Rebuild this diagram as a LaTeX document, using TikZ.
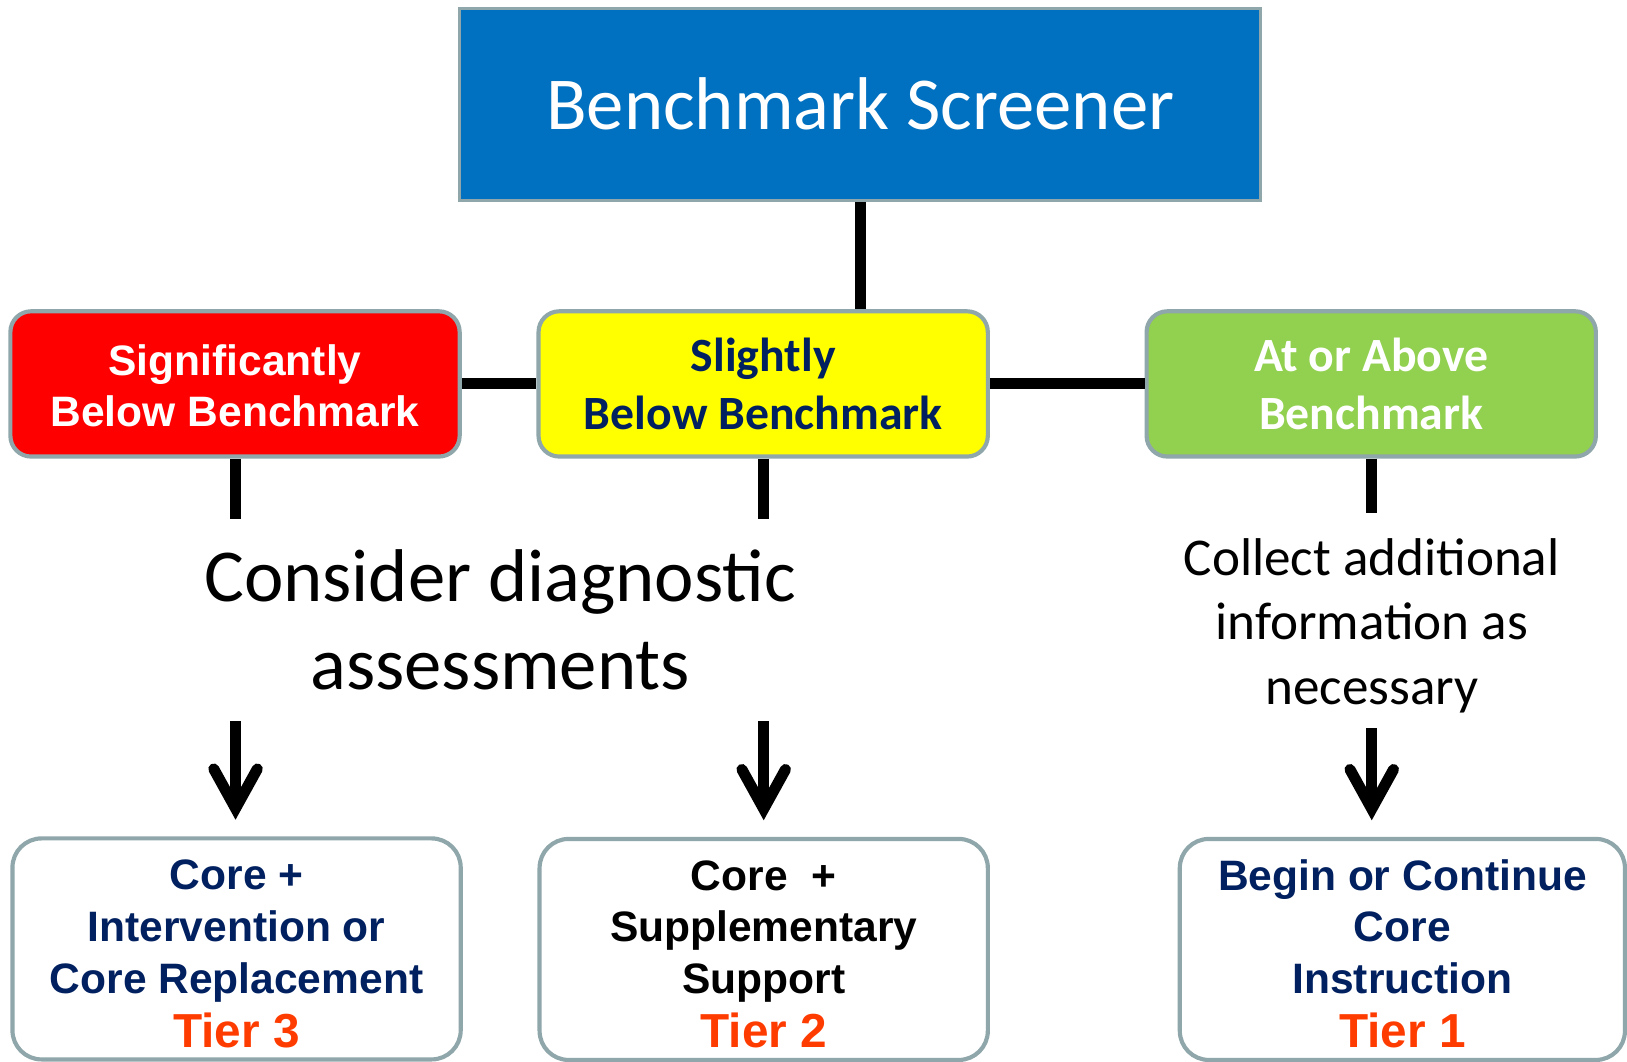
\documentclass[tikz,border=0pt]{standalone}
\usepackage{fontspec}
\setmainfont{Carlito}
\newfontfamily\arialfont{Liberation Sans}
\usetikzlibrary{arrows.meta}
\definecolor{hdrblue}{HTML}{0070C0}
\definecolor{edgegray}{RGB}{143,166,170}
\definecolor{boxred}{HTML}{FF0000}
\definecolor{boxyellow}{HTML}{FFFF00}
\definecolor{boxgreen}{HTML}{92D050}
\definecolor{navy}{HTML}{002060}
\definecolor{tierorange}{RGB}{255,60,0}
\tikzset{
  hdrbox/.style={draw=edgegray, line width=1.5pt, fill=hdrblue, text=white,
    minimum width=386pt, minimum height=92.5pt, inner sep=0pt,
    font=\fontsize{36}{43}\selectfont},
  levelbox/.style={draw=edgegray, line width=2pt, rounded corners=10pt,
    minimum width=216.5pt, minimum height=70pt, inner sep=0pt, align=center},
  tierbox/.style={draw=edgegray, line width=2pt, rounded corners=14pt, fill=white,
    minimum height=106.5pt, inner sep=0pt, align=center,
    font=\arialfont\bfseries\fontsize{20.5}{25}\selectfont},
  conn/.style={line width=5.3pt, black},
  downarrow/.style={line width=5.3pt, black,
    -{Straight Barb[length=19pt, width=21pt, line cap=round, line join=miter]}},
  note/.style={align=center, inner sep=0pt}
}
\newcommand{\tierlabel}[1]{\\[1pt]{\color{tierorange}\fontsize{23}{25}\selectfont #1}}
\newcommand{\topstrut}{\rule{0pt}{19pt}}
\begin{document}
\begin{tikzpicture}[x=0.5pt, y=-0.5pt]
\useasboundingbox (0,0) rectangle (1568,1023);

\node[hdrbox] (hdr) at (829,100.5) {Benchmark Screener};

\node[levelbox, fill=boxred, text=white,
  font=\arialfont\bfseries\fontsize{20.5}{24.5}\selectfont]
  (red) at (226.5,370) {\rule{0pt}{17pt}Significantly\\Below Benchmark};
\node[levelbox, fill=boxyellow, text=navy,
  font=\bfseries\fontsize{23}{28}\selectfont]
  (yel) at (735.5,370) {Slightly\\Below Benchmark};
\node[levelbox, fill=boxgreen, text=white,
  font=\bfseries\fontsize{23}{28}\selectfont]
  (grn) at (1321.5,370) {At or Above\\Benchmark};

\draw[conn] (hdr.south) -- (hdr.south |- yel.north);
\draw[conn] (red.east) -- (yel.west);
\draw[conn] (yel.east) -- (grn.west);

\coordinate (rs) at (227,500);
\coordinate (ys) at (736,500);
\coordinate (gs) at (1322,494);
\draw[conn] (red.south -| rs) -- (rs);
\draw[conn] (yel.south -| ys) -- (ys);
\draw[conn] (grn.south -| gs) -- (gs);

\node[note, font=\fontsize{36}{42.5}\selectfont] (diag) at (482,597)
  {Consider diagnostic\\assessments};
\node[note, font=\fontsize{25.6}{31}\selectfont] (info) at (1322,603)
  {Collect additional\\information as\\necessary};

\node[tierbox, minimum width=216pt, text=navy] (t3) at (228,914.5)
  {\topstrut Core +\\Intervention or\\Core Replacement\tierlabel{Tier 3}};
\node[tierbox, minimum width=216pt, text=black] (t2) at (736,915)
  {\topstrut Core\ \ +\\Supplementary\\Support\tierlabel{Tier 2}};
\node[tierbox, minimum width=214.5pt, text=navy] (t1) at (1351.5,915)
  {\topstrut Begin or Continue\\Core\\Instruction\tierlabel{Tier 1}};

\coordinate (a3) at (227,695);
\coordinate (a2) at (736,695);
\coordinate (a1) at (1322,702);
\draw[downarrow, shorten >=8pt] (a3) -- (a3 |- t3.north);
\draw[downarrow, shorten >=8pt] (a2) -- (a2 |- t2.north);
\draw[downarrow, shorten >=8pt] (a1) -- (a1 |- t1.north);
\end{tikzpicture}
\end{document}
